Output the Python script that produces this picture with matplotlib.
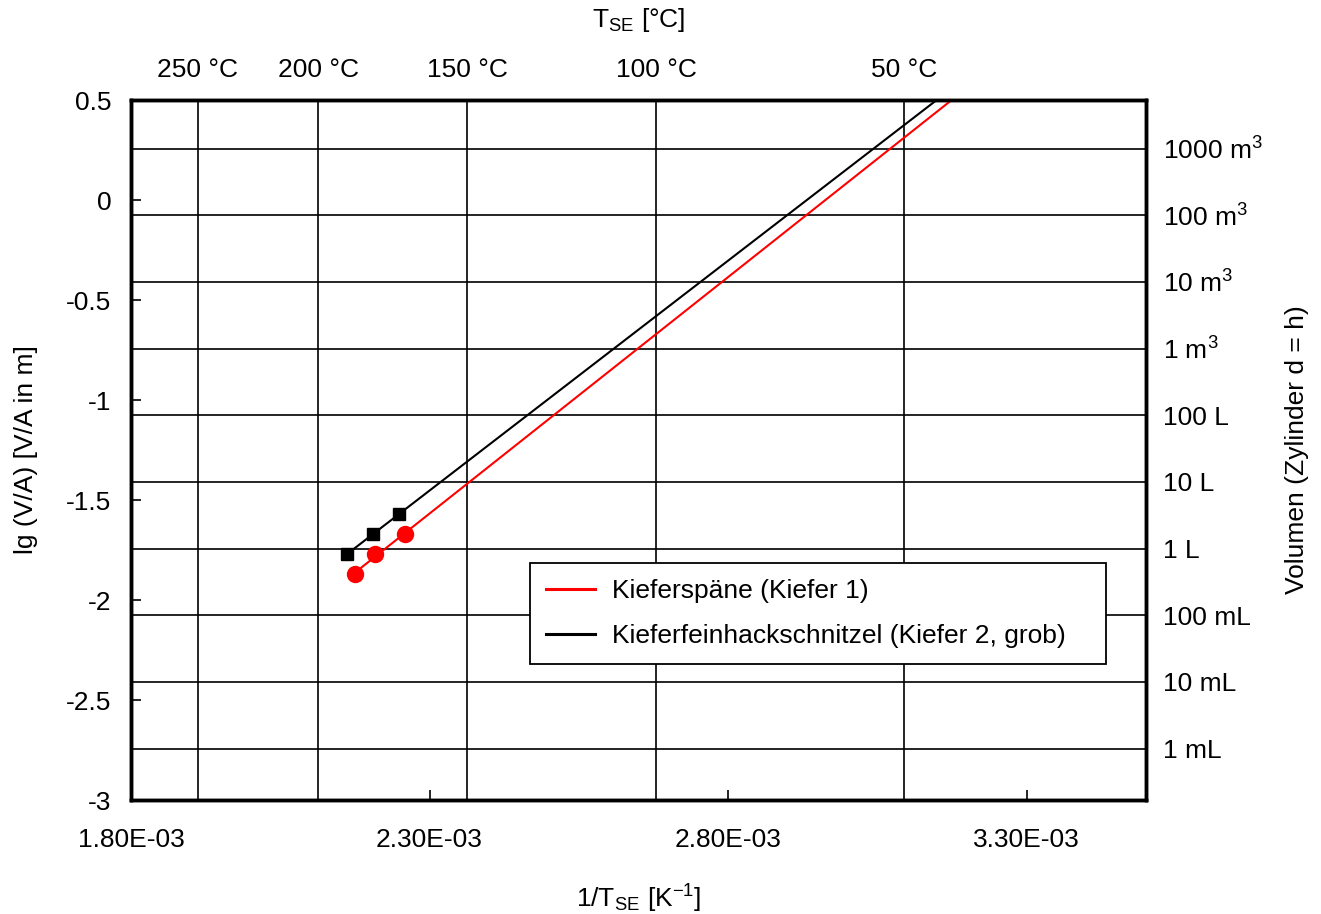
import numpy as np
import matplotlib
matplotlib.use("Agg")
import matplotlib.pyplot as plt

plt.rcParams['font.family'] = ['Liberation Sans', 'DejaVu Sans']
plt.rcParams['mathtext.fontset'] = 'custom'
plt.rcParams['mathtext.rm'] = 'Liberation Sans'
plt.rcParams['mathtext.it'] = 'Liberation Sans'

# data (1/T in 1/K, lg(V/A))
red_x = [2.1755e-3, 2.209e-3, 2.259e-3]
red_y = [-1.87, -1.77, -1.67]
black_x = [2.162e-3, 2.2056e-3, 2.249e-3]
black_y = [-1.77, -1.67, -1.57]
red_label = "Kieferspäne (Kiefer 1)"
black_label = "Kieferfeinhackschnitzel (Kiefer 2, grob)"

x_ticks = [1.80e-3, 2.30e-3, 2.80e-3, 3.30e-3]
x_ticklabels = ["1.80E-03", "2.30E-03", "2.80E-03", "3.30E-03"]
y_ticks = [0.5, 0, -0.5, -1, -1.5, -2, -2.5, -3]
y_ticklabels = ["0.5", "0", "-0.5", "-1", "-1.5", "-2", "-2.5", "-3"]

temps_C = [250, 200, 150, 100, 50]
temp_labels = ["250 °C", "200 °C", "150 °C", "100 °C", "50 °C"]

volumes_m3 = [1000, 100, 10, 1, 0.1, 0.01, 1e-3, 1e-4, 1e-5, 1e-6]
volume_labels = ["1000 m$^\\mathregular{3}$", "100 m$^\\mathregular{3}$", "10 m$^\\mathregular{3}$",
                 "1 m$^\\mathregular{3}$", "100 L", "10 L", "1 L", "100 mL", "10 mL", "1 mL"]

FS = 19
fig = plt.figure(figsize=(13.21, 9.14), dpi=100)
ax = fig.add_axes([131/1321, 1-800/914, (1146-131)/1321, 700/914])
ax.set_xlim(1.80e-3, 3.50e-3)
ax.set_ylim(-3, 0.5)

# vertical lines at temperatures
temp_pos = [1.0/(t + 273.15) for t in temps_C]
for xp in temp_pos:
    ax.axvline(xp, color='black', lw=1.2, zorder=1)
# horizontal lines at cylinder volumes (d = h): V/A = r/3, V = 2 pi r^3
vol_pos = [np.log10((v/(2*np.pi))**(1/3)/3) for v in volumes_m3]
for yp in vol_pos:
    ax.axhline(yp, color='black', lw=1.2, zorder=1)

# regression lines from points up to lg = 0.5
for xs, ys, c, lab in [(red_x, red_y, 'red', red_label), (black_x, black_y, 'black', black_label)]:
    k, d = np.polyfit(xs, ys, 1)
    x_end = (0.5 - d)/k
    ax.plot([xs[0], x_end], [k*xs[0]+d, 0.5], color=c, lw=1.5, label=lab, zorder=3)

ax.plot(red_x, red_y, 'o', color='red', ms=11.5, zorder=4)
ax.plot(black_x, black_y, 's', color='black', ms=8, zorder=4)

ax.set_xticks(x_ticks)
ax.set_xticklabels(x_ticklabels, fontsize=FS)
ax.set_yticks(y_ticks)
ax.set_yticklabels(y_ticklabels, fontsize=FS)
ax.tick_params(axis='both', direction='in', length=7, width=1.2, pad=14)
ax.tick_params(axis='x', pad=20)
for s in ax.spines.values():
    s.set_linewidth(2.5)

ax.set_xlabel("1/T$_\\mathregular{SE}$ [K$^\\mathregular{-1}$]", fontsize=FS, labelpad=22)
ax.set_ylabel("lg (V/A) [V/A in m]", fontsize=FS, labelpad=20)

# top axis
axt = ax.twiny()
axt.set_xlim(ax.get_xlim())
axt.set_xticks(temp_pos)
axt.set_xticklabels(temp_labels, fontsize=FS)
axt.tick_params(axis='x', direction='in', length=0, pad=13)
axt.set_xlabel("T$_\\mathregular{SE}$ [°C]", fontsize=FS, labelpad=22)
for s in axt.spines.values():
    s.set_linewidth(2.5)

# right axis
axr = ax.twinx()
axr.set_ylim(ax.get_ylim())
axr.set_yticks(vol_pos)
axr.set_yticklabels(volume_labels, fontsize=FS)
axr.tick_params(axis='y', direction='in', length=0, pad=12)
axr.set_ylabel("Volumen (Zylinder d = h)", fontsize=FS, labelpad=16)

leg = ax.legend(loc='upper left', bbox_to_anchor=(0.393, 0.197, 0.5676, 0.1416), mode='expand',
                fontsize=FS, frameon=True, fancybox=False, edgecolor='black', framealpha=1,
                handlelength=1.85, handletextpad=0.65, labelspacing=0.8,
                borderpad=0.6, borderaxespad=0)
leg.get_frame().set_linewidth(1.3)
leg.set_zorder(5)
for h in leg.get_lines():
    h.set_linewidth(2.2)

fig.savefig("out.png", dpi=100)
